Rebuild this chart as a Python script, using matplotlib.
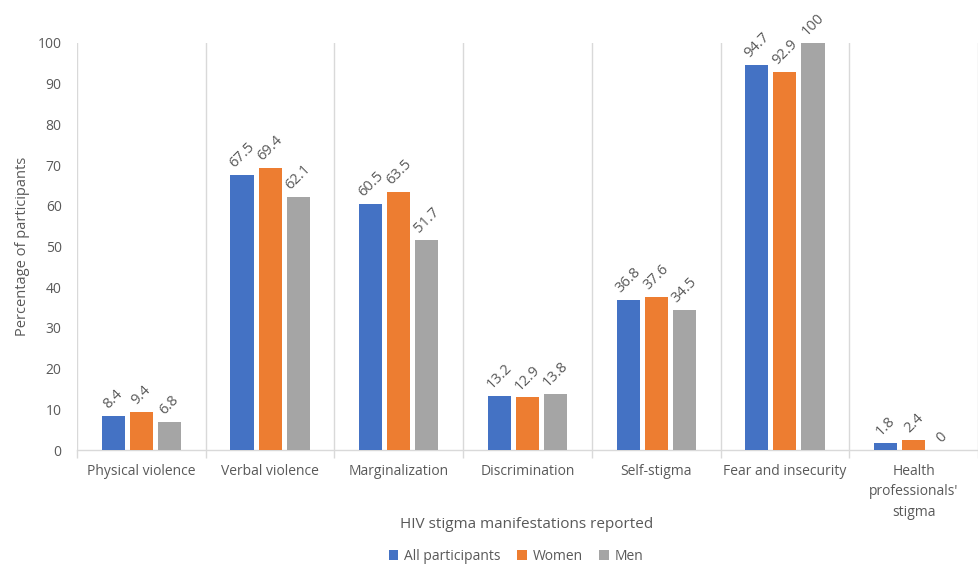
import matplotlib
matplotlib.use("Agg")
import matplotlib.pyplot as plt
import numpy as np
from matplotlib.patches import Patch

plt.rcParams['font.family'] = ['Open Sans', 'DejaVu Sans']

categories = ["Physical violence", "Verbal violence", "Marginalization", "Discrimination",
              "Self-stigma", "Fear and insecurity", "Health\nprofessionals'\nstigma"]
series_names = ["All participants", "Women", "Men"]
all_participants = [8.4, 67.5, 60.5, 13.2, 36.8, 94.7, 1.8]
women = [9.4, 69.4, 63.5, 12.9, 37.6, 92.9, 2.4]
men = [6.8, 62.1, 51.7, 13.8, 34.5, 100, 0]
y_ticks = list(range(0, 101, 10))

colors = ["#4472C4", "#ED7D31", "#A5A5A5"]
text_color = "#595959"
grid_color = "#D9D9D9"

fig = plt.figure(figsize=(9.79, 5.66), dpi=100)
ax = fig.add_axes([77 / 979, 1 - 450 / 566, 901 / 979, (450 - 43) / 566])

x = np.arange(len(categories))
bar_w = 0.179
step = 0.218
for i, (vals, c) in enumerate(zip([all_participants, women, men], colors)):
    pos = x + (i - 1) * step
    ax.bar(pos, vals, width=bar_w, color=c, zorder=3)
    for p, v in zip(pos, vals):
        ax.text(p, v + 1.0, f"{v:g}", rotation=45, ha="center", va="bottom",
                fontsize=10.5, color=text_color, zorder=4)

ax.set_xlim(-0.5, len(categories) - 0.5)
ax.set_ylim(0, 100)
ax.set_yticks(y_ticks)
ax.set_xticks(x)
ax.set_xticklabels(categories, fontsize=10, color=text_color, linespacing=1.5)
ax.set_xticks(np.arange(-0.5, len(categories), 1.0), minor=True)
ax.tick_params(axis="x", which="major", length=0, pad=10)
ax.tick_params(axis="x", which="minor", length=6, color=grid_color, width=1)
ax.tick_params(axis="y", length=0, pad=11, labelsize=10, labelcolor=text_color)

# vertical separators between categories
for b in np.arange(-0.5, len(categories), 1.0):
    ax.axvline(b, color=grid_color, lw=1, zorder=1)

for s in ["top", "right", "left"]:
    ax.spines[s].set_visible(False)
ax.spines["bottom"].set_color(grid_color)
ax.spines["bottom"].set_linewidth(1)

ax.set_ylabel("Percentage of participants", fontsize=10.5, color=text_color)
ax.yaxis.set_label_coords(-47 / 901, 0.5)
fig.text(527 / 979, 1 - 524 / 566, "HIV stigma manifestations reported", ha="center",
         va="center", fontsize=11, color=text_color)

handles = [Patch(facecolor=c, edgecolor="none") for c in colors]
fig.legend(handles, series_names, loc="center", bbox_to_anchor=(516 / 979, 1 - 556 / 566),
           ncol=3, frameon=False, fontsize=10, handlelength=0.7, handleheight=0.7,
           handletextpad=0.4, columnspacing=1.2, labelcolor=text_color,
           borderpad=0.1)

fig.savefig("out.png", dpi=100)
